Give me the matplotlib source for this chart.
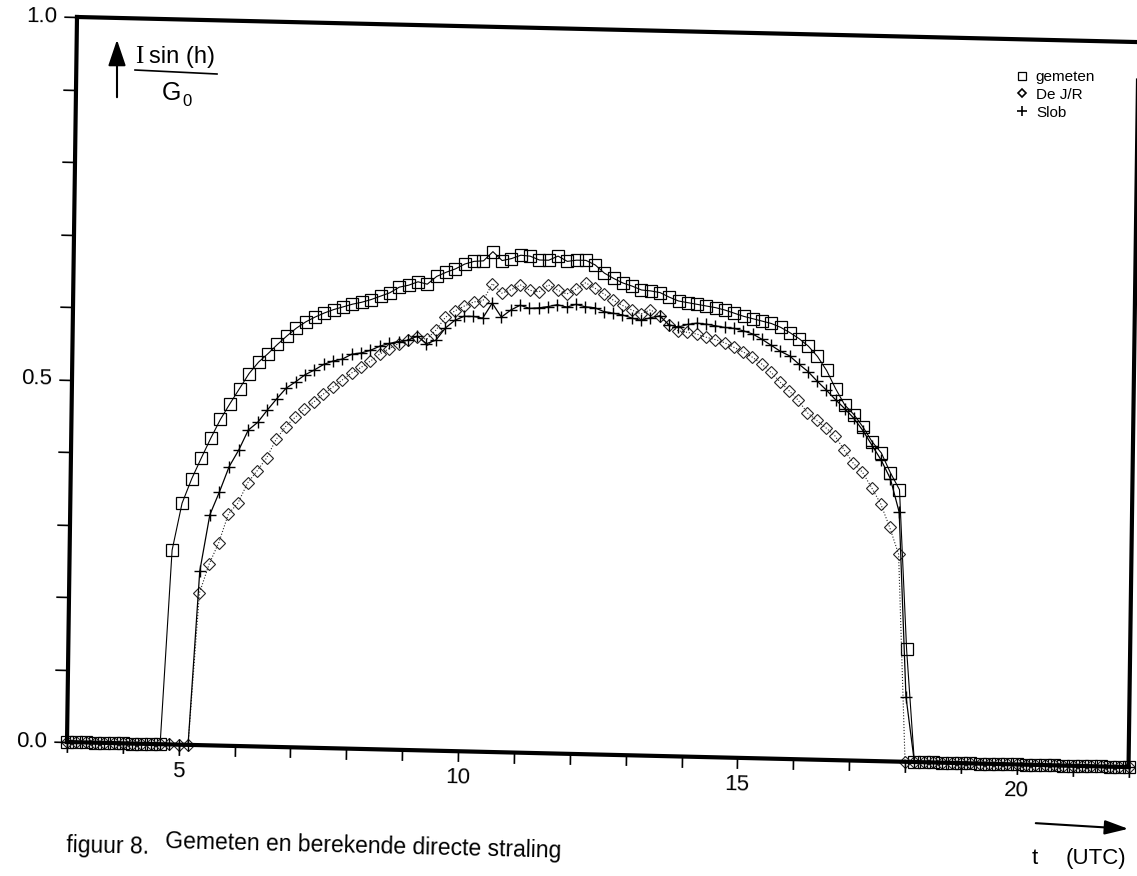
import numpy as np
import matplotlib
matplotlib.use("Agg")
import matplotlib.pyplot as plt
from matplotlib.transforms import Affine2D
from matplotlib.lines import Line2D
from matplotlib.patches import FancyArrowPatch
import mpl_toolkits.axisartist.floating_axes as floating_axes
from mpl_toolkits.axisartist.grid_finder import FixedLocator, DictFormatter

plt.rcParams['font.family'] = ['Liberation Sans', 'DejaVu Sans']

# 10-minute values, 03:00 .. 22:00 UTC
t = np.linspace(3, 22, 115)

gemeten = [0] * 11 + [
    0.268, 0.333, 0.367, 0.396, 0.424, 0.450, 0.472, 0.493, 0.514, 0.530,
    0.542, 0.555, 0.567, 0.578, 0.587, 0.594, 0.600, 0.605, 0.609, 0.613,
    0.616, 0.620, 0.625, 0.630, 0.638, 0.641, 0.646, 0.643, 0.654, 0.660,
    0.665, 0.672, 0.676, 0.677, 0.690, 0.678, 0.681, 0.686, 0.685, 0.680,
    0.680, 0.686, 0.679, 0.681, 0.681, 0.675, 0.664, 0.657, 0.651, 0.647,
    0.642, 0.641, 0.639, 0.633, 0.628, 0.626, 0.624, 0.622, 0.620, 0.617,
    0.613, 0.609, 0.606, 0.603, 0.600, 0.595, 0.588, 0.580, 0.570, 0.556,
    0.537, 0.512, 0.490, 0.477, 0.460, 0.440, 0.425, 0.398, 0.375, 0.155,
] + [0] * 24

de_jr = [0] * 14 + [
    0.210, 0.250, 0.280, 0.320, 0.335, 0.363, 0.380, 0.398, 0.424, 0.442,
    0.455, 0.467, 0.477, 0.488, 0.498, 0.508, 0.518, 0.526, 0.535, 0.545,
    0.553, 0.560, 0.566, 0.570, 0.567, 0.580, 0.598, 0.607, 0.614, 0.620,
    0.622, 0.646, 0.633, 0.638, 0.645, 0.638, 0.636, 0.646, 0.639, 0.634,
    0.641, 0.650, 0.643, 0.635, 0.627, 0.620, 0.614, 0.609, 0.615, 0.607,
    0.594, 0.587, 0.585, 0.583, 0.579, 0.576, 0.572, 0.566, 0.560, 0.553,
    0.544, 0.533, 0.520, 0.508, 0.495, 0.478, 0.468, 0.458, 0.447, 0.428,
    0.410, 0.398, 0.377, 0.355, 0.323, 0.286,
] + [0] * 25

slob = [0] * 14 + [
    0.240, 0.318, 0.350, 0.385, 0.408, 0.436, 0.447, 0.464, 0.480, 0.495,
    0.504, 0.514, 0.521, 0.529, 0.534, 0.537, 0.544, 0.546, 0.550, 0.556,
    0.560, 0.563, 0.565, 0.571, 0.561, 0.566, 0.583, 0.594, 0.600, 0.600,
    0.598, 0.619, 0.600, 0.610, 0.617, 0.613, 0.614, 0.616, 0.619, 0.616,
    0.620, 0.617, 0.616, 0.611, 0.609, 0.607, 0.603, 0.600, 0.604, 0.607,
    0.595, 0.592, 0.596, 0.598, 0.597, 0.595, 0.593, 0.592, 0.589, 0.585,
    0.578, 0.570, 0.562, 0.556, 0.545, 0.535, 0.522, 0.510, 0.497, 0.485,
    0.472, 0.455, 0.435, 0.415, 0.390, 0.344, 0.090,
] + [0] * 24

x_ticks = list(range(3, 23))
x_labels = {5: '5', 10: '10', 15: '15', 20: '20'}
y_ticks = [i / 10 for i in range(11)]
y_labels = {0.0: '0.0', 0.5: '0.5', 1.0: '1.0'}

W, H = 1137, 876
fig = plt.figure(figsize=(W / 100, H / 100), dpi=100)

# hours / fraction -> page pixels; the printed frame sits slightly askew
page = Affine2D(np.array([[55.87, 10.0, 67 - 3 * 55.87],
                          [-1.32, 725.0, 134 + 3 * 1.32],
                          [0.0, 0.0, 1.0]]))

helper = floating_axes.GridHelperCurveLinear(
    page, extremes=(3, 22, 0, 1),
    grid_locator1=FixedLocator(x_ticks),
    grid_locator2=FixedLocator(y_ticks),
    tick_formatter1=DictFormatter(x_labels),
    tick_formatter2=DictFormatter(y_labels))

ax = fig.add_axes([0, 0, 1, 1], axes_class=floating_axes.FloatingAxes,
                  grid_helper=helper)
ax.set_aspect('auto')
ax.set_xlim(0, W)
ax.set_ylim(0, H)

for side in ['left', 'bottom', 'top', 'right']:
    ax.axis[side].line.set_linewidth(3)
for side in ['top', 'right']:
    ax.axis[side].toggle(ticks=False, ticklabels=False)
for side, size in [('left', 9.5), ('bottom', 7.5)]:
    a = ax.axis[side]
    a.toggle(ticks=True, ticklabels=True)
    a.major_ticks.set_tick_out(True)
    a.major_ticks.set_ticksize(size)
    a.major_ticks.set_markeredgewidth(1.2)
    a.major_ticklabels.set_fontsize(16)
    a.major_ticklabels.set_pad(5)

aux = ax.get_aux_axes(page)
aux.plot(t, gemeten, color='k', lw=0.8, marker='s', ms=8.8, mfc='none',
         mec='k', mew=0.9, clip_on=False)
aux.plot(t, de_jr, color='#222222', lw=0.8, ls=':', marker='D', ms=6,
         mfc='none', mec='#222222', mew=0.8, clip_on=False)
aux.plot(t, slob, color='k', lw=0.9, marker='+', ms=9, mew=1.0,
         clip_on=False)

handles = [
    Line2D([], [], ls='none', marker='s', ms=6, mfc='none', mec='k', mew=0.9),
    Line2D([], [], ls='none', marker='D', ms=4.5, mfc='none', mec='k', mew=1.2),
    Line2D([], [], ls='none', marker='+', ms=7, mec='k', mew=1.2),
]
fig.legend(handles, ['gemeten', 'De J/R', 'Slob'], loc='upper left',
           bbox_to_anchor=(1016 / W, 1 - 70 / H), frameon=False, fontsize=11,
           handlelength=0.8, handletextpad=0.5, labelspacing=0.25,
           borderpad=0, borderaxespad=0)

# y quantity: arrow and I sin(h) / G0
fig.add_artist(FancyArrowPatch((117 / W, 1 - 100 / H), (117 / W, 1 - 37 / H),
                               transform=fig.transFigure, mutation_scale=20,
                               arrowstyle='-|>,head_length=0.8,head_width=0.27',
                               color='k', lw=1.5))
fig.text(135 / W, 1 - 63 / H, 'I', family='Liberation Serif', fontsize=18,
         ha='left', va='baseline')
fig.text(149 / W, 1 - 63 / H, 'sin (h)', fontsize=17, ha='left', va='baseline')
fig.add_artist(Line2D([135 / W, 217 / W], [1 - 70 / H, 1 - 74 / H],
                      transform=fig.transFigure, color='k', lw=1.2))
fig.text(162 / W, 1 - 100 / H, 'G', fontsize=18, ha='left', va='baseline')
fig.text(182 / W, 1 - 106 / H, '0', fontsize=12, ha='left', va='baseline')

# time arrow and unit
fig.add_artist(FancyArrowPatch((1033 / W, 1 - 823 / H), (1131 / W, 1 - 829 / H),
                               transform=fig.transFigure, mutation_scale=20,
                               arrowstyle='-|>,head_length=0.72,head_width=0.22',
                               color='k', lw=1.5))
fig.text(1032 / W, 1 - 864 / H, 't', fontsize=16, ha='left', va='baseline')
fig.text(1066 / W, 1 - 864 / H, '(UTC)', fontsize=16, ha='left', va='baseline')

# caption
fig.text(66 / W, 1 - 852 / H, 'figuur 8.', fontsize=16.5, ha='left',
         va='baseline', rotation=-1.2, rotation_mode='anchor')
fig.text(165 / W, 1 - 848 / H, 'Gemeten en berekende directe straling',
         fontsize=16.5, ha='left', va='baseline', rotation=-1.4,
         rotation_mode='anchor')

fig.savefig('out.png', dpi=100)
